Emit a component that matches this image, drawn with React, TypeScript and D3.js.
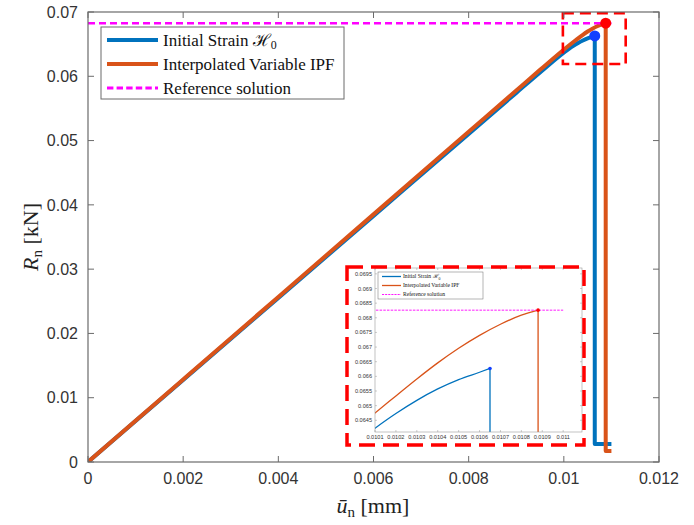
import * as d3 from "d3";

// load-displacement curves
const strainX = [0, 0.002, 0.004, 0.006, 0.008, 0.009, 0.0095, 0.0101, 0.0102, 0.0103, 0.0104, 0.0105, 0.0106, 0.01065];
const strainY = [0, 0.01276, 0.02552, 0.03828, 0.05104, 0.05742, 0.0606, 0.06423, 0.06473, 0.06518, 0.06557, 0.06589, 0.06614, 0.06627];
const strainTailX = [0.01065, 0.01065, 0.011];
const strainTailY = [0.06627, 0.0028, 0.0028];

const ipfX = [0, 0.002, 0.004, 0.006, 0.008, 0.009, 0.0095, 0.0101, 0.0102, 0.0103, 0.0104, 0.0105, 0.0106, 0.0107, 0.0108, 0.01088];
const ipfY = [0, 0.01284, 0.02568, 0.03852, 0.05136, 0.05778, 0.061, 0.06475, 0.06533, 0.06591, 0.06646, 0.06696, 0.0674, 0.06778, 0.06809, 0.06826];
const ipfTailX = [0.01088, 0.01088, 0.011];
const ipfTailY = [0.06826, 0.0017, 0.0017];

const refX = [0, 0.011];
const refY = [0.06826, 0.06826];

const xTicks = [0, 0.002, 0.004, 0.006, 0.008, 0.01, 0.012];
const yTicks = [0, 0.01, 0.02, 0.03, 0.04, 0.05, 0.06, 0.07];
const insetXTicks = [0.0101, 0.0102, 0.0103, 0.0104, 0.0105, 0.0106, 0.0107, 0.0108, 0.0109, 0.011];
const insetYTicks = [0.0645, 0.065, 0.0655, 0.066, 0.0665, 0.067, 0.0675, 0.068, 0.0685, 0.069, 0.0695];

// zoom window in data units
const zoomBoxX = [0.00998, 0.0113];
const zoomBoxY = [0.0619, 0.0698];

const BLUE = "#0072BD";
const ORANGE = "#D95319";
const MAGENTA = "#FF00FF";
const AXIS = "#6b6b6b";
const sans = "'Liberation Sans', Arial, sans-serif";
const serif = "'Liberation Serif', 'DejaVu Serif', serif";

const zip = (xs: number[], ys: number[]) => xs.map((x, i) => [x, ys[i]] as [number, number]);
const fmt = d3.format("~g");

function paths(x: d3.ScaleLinear<number, number>, y: d3.ScaleLinear<number, number>) {
  const curve = d3.line<[number, number]>().x((d) => x(d[0])).y((d) => y(d[1])).curve(d3.curveMonotoneX);
  const straight = d3.line<[number, number]>().x((d) => x(d[0])).y((d) => y(d[1]));
  return {
    strain: curve(zip(strainX, strainY))! + straight(zip(strainTailX, strainTailY))!,
    ipf: curve(zip(ipfX, ipfY))! + straight(zip(ipfTailX, ipfTailY))!,
    ref: straight(zip(refX, refY))!,
  };
}

const Axes = ({ x, y, xt, yt, tick, font, pad, color }: any) => {
  const [x0, x1] = x.range();
  const [y0, y1] = y.range();
  return (
    <g>
      <rect x={x0} y={y1} width={x1 - x0} height={y0 - y1} fill="none" stroke={color} strokeWidth={tick > 3 ? 1.2 : 0.6} />
      {xt.map((t: number) => (
        <g key={"x" + t}>
          <line x1={x(t)} x2={x(t)} y1={y0} y2={y0 - tick} stroke={color} strokeWidth={tick > 3 ? 1 : 0.5} />
          <line x1={x(t)} x2={x(t)} y1={y1} y2={y1 + tick} stroke={color} strokeWidth={tick > 3 ? 1 : 0.5} />
          <text x={x(t)} y={y0 + pad + font * 0.75} fontSize={font} fontFamily={sans} textAnchor="middle" fill="#333">
            {fmt(t)}
          </text>
        </g>
      ))}
      {yt.map((t: number) => (
        <g key={"y" + t}>
          <line x1={x0} x2={x0 + tick} y1={y(t)} y2={y(t)} stroke={color} strokeWidth={tick > 3 ? 1 : 0.5} />
          <line x1={x1} x2={x1 - tick} y1={y(t)} y2={y(t)} stroke={color} strokeWidth={tick > 3 ? 1 : 0.5} />
          <text x={x0 - pad} y={y(t)} dy="0.36em" fontSize={font} fontFamily={sans} textAnchor="end" fill="#333">
            {fmt(t)}
          </text>
        </g>
      ))}
    </g>
  );
};

const Legend = ({ x, y, w, h, rows, sample, fs, lw }: any) => (
  <g>
    <rect x={x} y={y} width={w} height={h} fill="#fff" stroke={AXIS} strokeWidth={lw > 2 ? 1 : 0.5} />
    {rows.map((r: any, i: number) => {
      const cy = y + h * (i + 0.5) / rows.length + (lw > 2 ? 1 : 0);
      return (
        <g key={i}>
          <line x1={x + sample[0]} x2={x + sample[1]} y1={cy} y2={cy} stroke={r.color} strokeWidth={r.dash ? lw * 0.7 : lw} strokeDasharray={r.dash ? `${lw * 1.6},${lw * 0.8}` : undefined} />
          <text x={x + sample[1] + sample[2]} y={cy} dy="0.33em" fontSize={fs} fontFamily={serif} fill="#111">
            {r.label}
            {r.sub && (
              <tspan fontSize={fs * 0.7} dy="0.3em">{r.sub}</tspan>
            )}
          </text>
        </g>
      );
    })}
  </g>
);

const legendRows = [
  { label: "Initial Strain \u210B", sub: "0", color: BLUE },
  { label: "Interpolated Variable IPF", color: ORANGE },
  { label: "Reference solution", color: MAGENTA, dash: true },
];

export default function App() {
  const x = d3.scaleLinear().domain([0, 0.012]).range([88, 659]);
  const y = d3.scaleLinear().domain([0, 0.07]).range([462, 12]);
  const xi = d3.scaleLinear().domain([0.0101, 0.01109]).range([375, 582]);
  const yi = d3.scaleLinear().domain([0.0641, 0.0697]).range([432, 268]);
  const pm = paths(x, y);
  const pi = paths(xi, yi);
  const peakS = [strainX[strainX.length - 1], strainY[strainY.length - 1]];
  const peakI = [ipfX[ipfX.length - 1], ipfY[ipfY.length - 1]];

  return (
    <div style={{ position: "absolute", left: 0, top: 0 }}>
      <svg width={694} height={525} style={{ display: "block", background: "#fff" }}>
        <defs>
          <clipPath id="main">
            <rect x={88} y={12} width={571} height={450} />
          </clipPath>
          <clipPath id="inset">
            <rect x={375} y={268} width={207} height={164} />
          </clipPath>
        </defs>

        <g clipPath="url(#main)">
          <path d={pm.strain} fill="none" stroke={BLUE} strokeWidth={4} strokeLinejoin="round" />
          <path d={pm.ipf} fill="none" stroke={ORANGE} strokeWidth={4} strokeLinejoin="round" />
          <path d={pm.ref} fill="none" stroke={MAGENTA} strokeWidth={2.6} strokeDasharray="7,4" />
        </g>
        <circle cx={x(peakS[0])} cy={y(peakS[1])} r={5.5} fill="#1340ff" />
        <circle cx={x(peakI[0])} cy={y(peakI[1])} r={5.5} fill="#ff0000" />
        <rect
          x={x(zoomBoxX[0])}
          y={y(zoomBoxY[1])}
          width={x(zoomBoxX[1]) - x(zoomBoxX[0])}
          height={y(zoomBoxY[0]) - y(zoomBoxY[1])}
          fill="none"
          stroke="#ff0000"
          strokeWidth={2.6}
          strokeDasharray="11,6"
        />
        <Axes x={x} y={y} xt={xTicks} yt={yTicks} tick={6} font={16} pad={10} color={AXIS} />

        <text x={373} y={513} fontSize={22} fontFamily={serif} textAnchor="middle" fill="#222">
          <tspan fontStyle="italic">{"\u016B"}</tspan>
          <tspan fontSize={15} dy={4}>n</tspan>
          <tspan dy={-4}>{" [mm]"}</tspan>
        </text>
        <text transform="translate(38,237) rotate(-90)" fontSize={22} fontFamily={serif} textAnchor="middle" fill="#222">
          <tspan fontStyle="italic">R</tspan>
          <tspan fontSize={15} dy={4}>n</tspan>
          <tspan dy={-4}>{" [kN]"}</tspan>
        </text>

        <Legend x={101} y={27} w={243} h={72} rows={legendRows} sample={[6, 57, 5]} fs={17} lw={4} />

        {/* inset */}
        <rect x={347} y={267} width={237} height={178} fill="#fff" />
        <g clipPath="url(#inset)">
          <path d={pi.strain} fill="none" stroke={BLUE} strokeWidth={1.3} />
          <path d={pi.ipf} fill="none" stroke={ORANGE} strokeWidth={1.3} />
          <path d={pi.ref} fill="none" stroke={MAGENTA} strokeWidth={0.9} strokeDasharray="2.5,1.2" />
          <circle cx={xi(peakS[0])} cy={yi(peakS[1])} r={1.8} fill="#1340ff" />
          <circle cx={xi(peakI[0])} cy={yi(peakI[1])} r={1.8} fill="#ff0000" />
        </g>
        <Axes x={xi} y={yi} xt={insetXTicks} yt={insetYTicks} tick={2} font={5.6} pad={3} color="#999" />
        <Legend x={378} y={272} w={105} h={27} rows={legendRows} sample={[4, 23, 2]} fs={5.6} lw={1.3} />
        <rect x={347} y={267} width={237} height={178} fill="none" stroke="#ff0000" strokeWidth={3.5} strokeDasharray="16,8" />
      </svg>
    </div>
  );
}
